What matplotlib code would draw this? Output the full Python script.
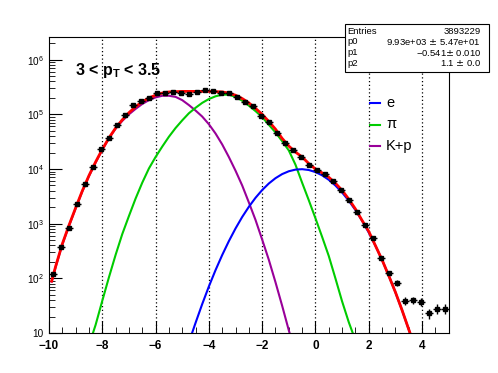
import numpy as np
import matplotlib
matplotlib.use('Agg')
import matplotlib.pyplot as plt
from matplotlib.ticker import MultipleLocator, LogLocator, FuncFormatter

plt.rcParams['font.family'] = ['Liberation Sans', 'DejaVu Sans']

# histogram (bin centres, counts)
bin_x = [-9.85, -9.55, -9.25, -8.95, -8.65, -8.35, -8.05, -7.75, -7.45, -7.15,
         -6.85, -6.55, -6.25, -5.95, -5.65, -5.35, -5.05, -4.75, -4.45, -4.15,
         -3.85, -3.55, -3.25, -2.95, -2.65, -2.35, -2.05, -1.75, -1.45, -1.15,
         -0.85, -0.55, -0.25, 0.05, 0.35, 0.65, 0.95, 1.25, 1.55, 1.85,
         2.15, 2.45, 2.75, 3.05, 3.35, 3.65, 3.95, 4.25, 4.55, 4.85]
counts = [120, 380, 830, 2300, 5400, 10700, 23000, 37000, 64000, 96000,
          148000, 177000, 195000, 250000, 250000, 260000, 250000, 240000, 260000, 275000,
          270000, 250000, 250000, 207000, 170000, 140000, 93000, 73000, 46000, 30500,
          22000, 16600, 12000, 9700, 8200, 6100, 4200, 2700, 1660, 940,
          550, 236, 127, 83, 39, 40, 37, 23, 28, 28]
bin_half = 0.15

# fit curves (log10 of the value)
tot_x = [-9.9, -9.75, -9.5, -9.25, -9.0, -8.75, -8.5, -8.25, -8.0, -7.75, -7.5, -7.25,
         -7.0, -6.75, -6.5, -6.25, -6.0, -5.75, -5.5, -5.0, -4.5, -4.0, -3.5, -3.25,
         -3.0, -2.75, -2.5, -2.25, -2.0, -1.75, -1.5, -1.25, -1.0, -0.75, -0.5, -0.25,
         0.0, 0.25, 0.5, 0.75, 1.0, 1.25, 1.5, 1.75, 2.0, 2.25, 2.5, 2.75, 3.0, 3.25, 3.5, 3.55]
tot_log = [1.95, 2.22, 2.63, 2.97, 3.29, 3.60, 3.88, 4.13, 4.36, 4.57, 4.75, 4.90,
           5.03, 5.14, 5.23, 5.30, 5.35, 5.39, 5.41, 5.42, 5.42, 5.42, 5.41, 5.39,
           5.35, 5.29, 5.21, 5.11, 5.00, 4.87, 4.73, 4.56, 4.42, 4.31, 4.22, 4.10,
           4.00, 3.93, 3.85, 3.74, 3.61, 3.45, 3.27, 3.06, 2.86, 2.60, 2.34, 2.05, 1.75, 1.42, 1.07, 1.0]

e_x = [-4.63, -4.5, -4.25, -4.0, -3.75, -3.5, -3.25, -3.0, -2.75, -2.5, -2.25, -2.0,
       -1.75, -1.5, -1.25, -1.0, -0.75, -0.5, -0.25, 0.0, 0.25, 0.5, 0.75, 1.0,
       1.25, 1.5, 1.75, 2.0, 2.25, 2.5, 2.75, 3.0, 3.25, 3.5, 3.55]
e_log = [1.0, 1.185, 1.529, 1.851, 2.150, 2.426, 2.680, 2.912, 3.122, 3.308, 3.473, 3.615,
         3.735, 3.832, 3.907, 3.959, 3.989, 3.997, 3.982, 3.944, 3.885, 3.803, 3.698, 3.571,
         3.421, 3.250, 3.055, 2.839, 2.599, 2.338, 2.054, 1.747, 1.419, 1.067, 1.0]

pi_x = [-8.35, -8.25, -8.0, -7.75, -7.5, -7.25, -7.0, -6.75, -6.5, -6.25, -6.0, -5.75,
        -5.5, -5.25, -5.0, -4.75, -4.5, -4.25, -4.0, -3.75, -3.5, -3.25, -3.0, -2.75,
        -2.5, -2.25, -2.0, -1.75, -1.5, -1.25, -1.0, -0.75, -0.5, -0.25, 0.0, 0.25,
        0.5, 0.75, 1.0, 1.25, 1.4]
pi_log = [1.0, 1.15, 1.59, 2.02, 2.43, 2.81, 3.14, 3.46, 3.75, 4.01, 4.22, 4.41,
          4.59, 4.75, 4.89, 5.02, 5.12, 5.21, 5.28, 5.33, 5.36, 5.36, 5.32, 5.25,
          5.16, 5.06, 4.95, 4.81, 4.67, 4.51, 4.34, 4.08, 3.75, 3.43, 3.10, 2.76,
          2.41, 2.0, 1.58, 1.2, 1.0]

kp_x = [-9.9, -9.75, -9.5, -9.25, -9.0, -8.75, -8.5, -8.25, -8.0, -7.75, -7.5, -7.25,
        -7.0, -6.75, -6.5, -6.25, -6.0, -5.75, -5.5, -5.25, -5.0, -4.75, -4.5, -4.25,
        -4.0, -3.75, -3.5, -3.25, -3.0, -2.75, -2.5, -2.25, -2.0, -1.75, -1.5, -1.25,
        -1.0, -0.97]
kp_log = [1.94, 2.21, 2.62, 2.96, 3.28, 3.59, 3.87, 4.12, 4.35, 4.56, 4.74, 4.88,
          5.00, 5.10, 5.19, 5.26, 5.31, 5.34, 5.34, 5.32, 5.26, 5.17, 5.07, 4.96,
          4.82, 4.65, 4.45, 4.22, 3.97, 3.70, 3.39, 3.07, 2.71, 2.34, 1.93, 1.50,
          1.05, 1.0]

fig = plt.figure(figsize=(4.98, 3.73), dpi=100)
ax = fig.add_axes([0.0984, 0.1072, 0.8025, 0.7936])

ax.plot(kp_x, 10 ** np.array(kp_log), color='#990099', lw=1.5)
ax.plot(pi_x, 10 ** np.array(pi_log), color='#00cc00', lw=1.5)
ax.plot(e_x, 10 ** np.array(e_log), color='#0000ff', lw=1.5)
ax.plot(tot_x, 10 ** np.array(tot_log), color='#ff0000', lw=2)

yerr = np.sqrt(np.array(counts, dtype=float))
ax.errorbar(bin_x, counts, xerr=bin_half, yerr=yerr, fmt='s', color='black',
            ms=3.2, elinewidth=1, capsize=0)

ax.set_yscale('log')
ax.set_xlim(-10, 5)
ax.set_ylim(10, 2.6e6)

for gx in [-8, -6, -4, -2, 0, 2, 4]:
    ax.axvline(gx, color='black', ls=(0, (1, 2)), lw=0.9, zorder=0)

ax.xaxis.set_major_locator(MultipleLocator(2))
ax.xaxis.set_minor_locator(MultipleLocator(0.5))
ax.yaxis.set_major_locator(LogLocator(base=10, numticks=10))
ax.yaxis.set_minor_locator(LogLocator(base=10, subs=np.arange(2, 10), numticks=20))

def ylab(v, pos):
    n = int(round(np.log10(v)))
    if n == 1:
        return '10'
    return r'10$^{\mathregular{%d}}$' % n

ax.yaxis.set_major_formatter(FuncFormatter(ylab))
ax.tick_params(which='both', direction='in', top=False, right=False)
ax.tick_params(axis='x', which='major', length=9, labelsize=8.5, pad=5)
ax.tick_params(axis='x', which='minor', length=4.5)
ax.tick_params(axis='y', which='major', length=9, labelsize=7.2, pad=4)
ax.tick_params(axis='y', which='minor', length=4.5)
for lab in ax.get_xticklabels():
    lab.set_fontweight('bold')

ax.text(75, 373 - 75.5, r'3 < p$_{\mathregular{T}}$ < 3.5', transform=None,
        fontsize=11.5, fontweight='bold', ha='left', va='baseline')

# legend
for name, col, yy in [('e', '#0000ff', 103), ('\u03c0', '#00cc00', 124.5), ('K+p', '#990099', 146)]:
    fig.add_artist(plt.Line2D([370 / 498, 380 / 498], [(373 - yy) / 373] * 2, color=col, lw=1.5))
    fig.text(386 / 498, (373 - yy) / 373, name, fontsize=10.5, ha='left', va='center')

# stats box
fig.add_artist(plt.Rectangle((345 / 498, (373 - 72) / 373), 144 / 498, 48 / 373,
                             facecolor='white', edgecolor='black', lw=0.8))
rows = [('Entries', '3893229'), ('p0', '9.93e+03 $\\pm$ 5.47e+01'),
        ('p1', '\u22120.541$\\pm$ 0.010'), ('p2', '1.1 $\\pm$ 0.0')]
for k, (a, b) in enumerate(rows):
    yy = (373 - (31 + 10.8 * k)) / 373
    fig.text(347.5 / 498, yy, a, fontsize=6.8, ha='left', va='center')
    fig.text(481 / 498, yy, b, fontsize=6.8, ha='right', va='center')

fig.savefig('out.png', dpi=100)
